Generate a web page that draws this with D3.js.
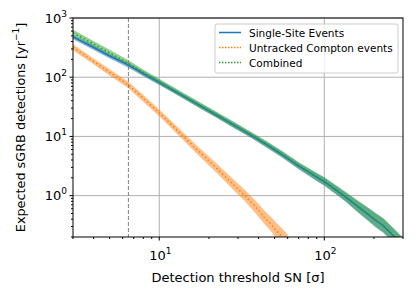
<!DOCTYPE html>
<html>
<head>
<meta charset="utf-8">
<script src="https://cdn.jsdelivr.net/npm/d3@7"></script>
<style>
  body { margin: 0; background: #fff; }
  text { font-family: "DejaVu Sans", sans-serif; fill: #000; }
</style>
</head>
<body>
<div id="chart"></div>
<script>
// values
var singleX = [3, 4, 5, 6.5, 8, 10, 13, 17, 22, 28, 37, 45, 56, 71, 90, 100, 113, 133, 160, 181, 205, 228, 262, 300];
var singleY = [480, 318, 228, 160, 115, 82, 54, 35, 23.2, 15.8, 10, 7.2, 4.85, 3.08, 2.05, 1.72, 1.35, 0.97, 0.65, 0.5, 0.38, 0.31, 0.21, 0.14];
var singleLo = [436, 289, 207, 145, 104, 74, 49, 31.6, 21, 14.2, 9, 6.4, 4.3, 2.7, 1.76, 1.47, 1.14, 0.81, 0.52, 0.39, 0.29, 0.235, 0.16, 0.105];
var singleHi = [528, 350, 251, 176, 127, 90, 59, 38.5, 25.5, 17.5, 11.1, 8.0, 5.45, 3.5, 2.38, 2.02, 1.6, 1.16, 0.81, 0.64, 0.5, 0.41, 0.28, 0.19];

var comptonX = [3, 4, 5, 6.5, 8, 10, 13, 17, 22, 28, 33, 38, 43, 47, 51, 56, 60];
var comptonY = [320, 185, 121, 74, 44, 25, 12.3, 5.9, 3.0, 1.55, 1.0, 0.66, 0.44, 0.34, 0.26, 0.195, 0.155];
var comptonLo = [285, 165, 107, 65, 38.5, 21.8, 10.6, 5.0, 2.5, 1.27, 0.8, 0.52, 0.34, 0.26, 0.19, 0.14, 0.11];
var comptonHi = [360, 208, 136, 84, 50, 28.6, 14.2, 6.9, 3.6, 1.9, 1.24, 0.84, 0.57, 0.45, 0.35, 0.27, 0.22];

var combinedX = singleX;
var combinedY = [565, 365, 258, 172, 120, 84, 55, 35.7, 23.7, 16.1, 10.2, 7.35, 4.95, 3.14, 2.08, 1.75, 1.37, 0.99, 0.66, 0.51, 0.39, 0.315, 0.213, 0.142];
var combinedLo = [500, 325, 230, 153, 107, 75, 49, 31.8, 21, 14.3, 9.1, 6.5, 4.4, 2.75, 1.78, 1.49, 1.16, 0.83, 0.53, 0.4, 0.3, 0.24, 0.162, 0.107];
var combinedHi = [635, 410, 290, 193, 135, 94, 61.5, 40, 26.5, 18, 11.4, 8.3, 5.6, 3.6, 2.42, 2.05, 1.62, 1.18, 0.82, 0.65, 0.51, 0.415, 0.285, 0.195];

var threshold = 6.5;
var xMajor = [10, 100];
var yMajor = [1, 10, 100, 1000];
var legendNames = ["Single-Site Events", "Untracked Compton events", "Combined"];

var width = 416, height = 296;
var mLeft = 73, mRight = 403, mTop = 18, mBottom = 237;

var svg = d3.select('#chart').append('svg')
    .attr('width', width)
    .attr('height', height);

var x = d3.scaleLog().domain([3, 300]).range([mLeft, mRight]);
var y = d3.scaleLog().domain([0.2, 1000]).range([mBottom, mTop]);

svg.append('clipPath').attr('id', 'clip')
    .append('rect')
    .attr('x', mLeft).attr('y', mTop)
    .attr('width', mRight - mLeft).attr('height', mBottom - mTop);

// grid
var grid = svg.append('g');
grid.selectAll('.gx').data(xMajor).enter().append('line')
    .attr('x1', d => x(d)).attr('x2', d => x(d))
    .attr('y1', mTop).attr('y2', mBottom)
    .attr('stroke', '#b0b0b0').attr('stroke-width', 1);
grid.selectAll('.gy').data(yMajor).enter().append('line')
    .attr('y1', d => y(d)).attr('y2', d => y(d))
    .attr('x1', mLeft).attr('x2', mRight)
    .attr('stroke', '#b0b0b0').attr('stroke-width', 1);

var plot = svg.append('g').attr('clip-path', 'url(#clip)');

function series(xs, ys, lo, hi, color) {
    var pts = xs.map((v, i) => ({x: v, y: ys[i], lo: lo[i], hi: hi[i]}));
    var area = d3.area()
        .x(d => x(d.x))
        .y0(d => y(d.lo))
        .y1(d => y(d.hi));
    plot.append('path').datum(pts)
        .attr('d', area)
        .attr('fill', color)
        .attr('fill-opacity', 0.5);
    return pts;
}

var sPts = series(singleX, singleY, singleLo, singleHi, '#1f77b4');
var cPts = series(comptonX, comptonY, comptonLo, comptonHi, '#ff7f0e');
var kPts = series(combinedX, combinedY, combinedLo, combinedHi, '#2ca02c');

var line = d3.line().x(d => x(d.x)).y(d => y(d.y));
plot.append('path').datum(sPts).attr('d', line)
    .attr('fill', 'none').attr('stroke', '#1f77b4').attr('stroke-width', 1.5);
plot.append('path').datum(cPts).attr('d', line)
    .attr('fill', 'none').attr('stroke', '#ff7f0e').attr('stroke-width', 1.5)
    .attr('stroke-dasharray', '1.5,2.5');
plot.append('path').datum(kPts).attr('d', line)
    .attr('fill', 'none').attr('stroke', '#2ca02c').attr('stroke-width', 1.5)
    .attr('stroke-dasharray', '1.5,2.5');

// threshold line
svg.append('line')
    .attr('x1', x(threshold)).attr('x2', x(threshold))
    .attr('y1', mTop).attr('y2', mBottom)
    .attr('stroke', '#808080').attr('stroke-width', 1)
    .attr('stroke-dasharray', '4,2');

// frame
svg.append('rect')
    .attr('x', mLeft).attr('y', mTop)
    .attr('width', mRight - mLeft).attr('height', mBottom - mTop)
    .attr('fill', 'none').attr('stroke', '#000').attr('stroke-width', 1);

// ticks
var xTicks = x.ticks();
svg.append('g').selectAll('line').data(xTicks).enter().append('line')
    .attr('x1', d => x(d)).attr('x2', d => x(d))
    .attr('y1', mBottom)
    .attr('y2', d => mBottom + (xMajor.includes(d) ? 3.5 : 2))
    .attr('stroke', '#000').attr('stroke-width', 1);
var yTicks = y.ticks();
svg.append('g').selectAll('line').data(yTicks).enter().append('line')
    .attr('y1', d => y(d)).attr('y2', d => y(d))
    .attr('x1', mLeft)
    .attr('x2', d => mLeft - (yMajor.includes(d) ? 3.5 : 2))
    .attr('stroke', '#000').attr('stroke-width', 1);

function powLabel(sel, d) {
    var e = Math.round(Math.log10(d));
    sel.append('tspan').text('10');
    sel.append('tspan').attr('dy', -6).attr('font-size', '9px').text(e);
}

svg.append('g').selectAll('text').data(xMajor).enter().append('text')
    .attr('x', d => x(d) + 1)
    .attr('y', 260)
    .attr('text-anchor', 'middle')
    .attr('font-size', '13px')
    .each(function(d) { powLabel(d3.select(this), d); });

svg.append('g').selectAll('text').data(yMajor).enter().append('text')
    .attr('x', 67)
    .attr('y', d => y(d) + 4.5)
    .attr('text-anchor', 'end')
    .attr('font-size', '13px')
    .each(function(d) { powLabel(d3.select(this), d); });

// axis labels
svg.append('text')
    .attr('x', (mLeft + mRight) / 2)
    .attr('y', 281.5)
    .attr('text-anchor', 'middle')
    .attr('font-size', '13px')
    .text('Detection threshold SN [σ]');

var yl = svg.append('text')
    .attr('transform', 'translate(24.5,' + ((mTop + mBottom) / 2) + ') rotate(-90)')
    .attr('text-anchor', 'middle')
    .attr('font-size', '12.8px');
yl.append('tspan').text('Expected sGRB detections [yr');
yl.append('tspan').attr('dy', -6).attr('font-size', '9px').text('−1');
yl.append('tspan').attr('dy', 6).text(']');

// legend
var lg = svg.append('g');
lg.append('rect')
    .attr('x', 215).attr('y', 24)
    .attr('width', 183).attr('height', 49)
    .attr('rx', 2)
    .attr('fill', '#fff').attr('fill-opacity', 0.8)
    .attr('stroke', '#cccccc').attr('stroke-width', 1);
var lColors = ['#1f77b4', '#ff7f0e', '#2ca02c'];
var lDash = [null, '1.5,1.5', '1.5,1.5'];
legendNames.forEach(function(name, i) {
    var ly = 32.5 + i * 15;
    lg.append('line')
        .attr('x1', 219).attr('x2', 241)
        .attr('y1', ly).attr('y2', ly)
        .attr('stroke', lColors[i]).attr('stroke-width', 1.5)
        .attr('stroke-dasharray', lDash[i]);
    lg.append('text')
        .attr('x', 249).attr('y', ly + 4)
        .attr('font-size', '10.5px')
        .text(name);
});
</script>
</body>
</html>
